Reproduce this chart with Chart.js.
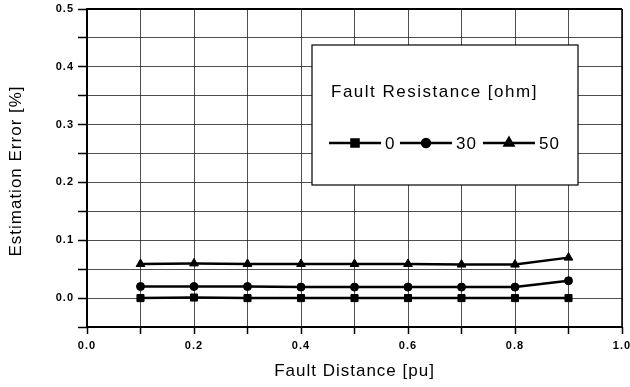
<!DOCTYPE html>
<html>
<head>
<meta charset="utf-8">
<script src="https://cdn.jsdelivr.net/npm/chart.js@4"></script>
<style>
  html, body { margin: 0; padding: 0; background: #fff; }
  #wrap { width: 630px; height: 387px; }
</style>
</head>
<body>
<div id="wrap"><canvas id="chart"></canvas></div>
<script>
// values
const distances = [0.1, 0.2, 0.3, 0.4, 0.5, 0.6, 0.7, 0.8, 0.9]
const err0 = [0.0, 0.001, 0.0, 0.0, 0.0, 0.0, 0.0, 0.0, 0.0]
const err30 = [0.02, 0.02, 0.02, 0.019, 0.019, 0.019, 0.019, 0.019, 0.03]
const err50 = [0.059, 0.06, 0.059, 0.059, 0.059, 0.059, 0.058, 0.058, 0.07]
const seriesNames = ["0", "30", "50"]
const legendTitle = "Fault Resistance [ohm]"
const xTitle = "Fault Distance [pu]"
const yTitle = "Estimation Error [%]"

const FONT = "'Liberation Sans', Arial, sans-serif"

const toPoints = (ys) => distances.map((x, i) => ({ x, y: ys[i] }))

const makeSet = (label, ys, style, radius) => ({
    label,
    data: toPoints(ys),
    borderColor: "#000",
    backgroundColor: "#000",
    borderWidth: 2.5,
    pointStyle: style,
    pointRadius: radius,
    pointBorderWidth: 1,
    tension: 0,
})

// the scan's lettering is spaced wider than plain Arial
const spacingPlugin = {
    id: "spacing",
    beforeDraw(chart) {
        chart.ctx.letterSpacing = "1px"
    },
}

// frame, axis titles and boxed legend, like the original figure
const framePlugin = {
    id: "frame",
    afterDatasetsDraw(chart) {
        const { ctx, chartArea: a } = chart
        ctx.save()
        ctx.strokeStyle = "#000"
        ctx.lineWidth = 2
        ctx.beginPath()
        ctx.moveTo(a.left, a.bottom)
        ctx.lineTo(a.left, a.top)
        ctx.lineTo(a.right, a.top)
        ctx.stroke()
        ctx.lineWidth = 1.5
        ctx.beginPath()
        ctx.moveTo(a.right, a.top)
        ctx.lineTo(a.right, a.bottom)
        ctx.stroke()
        ctx.lineWidth = 2
        ctx.beginPath()
        ctx.moveTo(a.left, a.bottom)
        ctx.lineTo(a.right, a.bottom)
        ctx.stroke()

        // axis titles
        ctx.fillStyle = "#000"
        ctx.letterSpacing = "1px"
        ctx.font = "17px " + FONT
        ctx.textAlign = "center"
        ctx.textBaseline = "middle"
        ctx.fillText(xTitle, (a.left + a.right) / 2, 371)
        ctx.save()
        ctx.translate(16, (a.top + a.bottom) / 2 + 3)
        ctx.rotate(-Math.PI / 2)
        ctx.fillText(yTitle, 0, 0)
        ctx.restore()

        // legend box
        const bx = 312, by = 45, bw = 266, bh = 140
        ctx.fillStyle = "#fff"
        ctx.fillRect(bx, by, bw, bh)
        ctx.lineWidth = 1.2
        ctx.strokeStyle = "#000"
        ctx.strokeRect(bx, by, bw, bh)

        ctx.fillStyle = "#000"
        ctx.letterSpacing = "1.5px"
        ctx.font = "17px " + FONT
        ctx.textAlign = "left"
        ctx.fillText(legendTitle, 331, 92)

        const rowY = 143
        const starts = [329, 400, 483]
        ctx.letterSpacing = "1px"
        chart.data.datasets.forEach((ds, i) => {
            const x0 = starts[i]
            ctx.strokeStyle = "#000"
            ctx.lineWidth = 2.5
            ctx.beginPath()
            ctx.moveTo(x0, rowY)
            ctx.lineTo(x0 + 52, rowY)
            ctx.stroke()
            Chart.helpers.drawPoint(ctx, {
                pointStyle: ds.pointStyle,
                radius: ds.pointRadius,
                borderWidth: 1,
            }, x0 + 26, rowY)
            ctx.fill()
            ctx.font = "17px " + FONT
            ctx.fillText(ds.label, x0 + 56, rowY + 1)
        })
        ctx.restore()
    },
}

new Chart(document.getElementById("chart"), {
    type: "line",
    data: {
        datasets: [
            makeSet(seriesNames[0], err0, "rect", 5),
            makeSet(seriesNames[1], err30, "circle", 4),
            makeSet(seriesNames[2], err50, "triangle", 5),
        ],
    },
    options: {
        responsive: true,
        maintainAspectRatio: false,
        animation: false,
        layout: { padding: { top: 9, right: 8, left: 0, bottom: 0 } },
        plugins: {
            legend: { display: false },
            tooltip: { enabled: false },
        },
        scales: {
            x: {
                type: "linear",
                min: 0,
                max: 1,
                afterFit: (s) => {
                    s.height = 60
                    s.paddingLeft = 0
                    s.paddingRight = 0
                },
                ticks: {
                    stepSize: 0.1,
                    padding: 5,
                    color: "#000",
                    font: { family: FONT, size: 11, weight: "bold" },
                    maxRotation: 0,
                    callback: (v) => {
                        const r = Math.round(v * 10)
                        return r % 2 === 0 ? (r / 10).toFixed(1) : ""
                    },
                },
                grid: {
                    color: "#222",
                    lineWidth: 0.8,
                    tickLength: 7,
                    tickColor: "#000",
                    tickWidth: 1.5,
                },
                border: { display: false },
            },
            y: {
                min: -0.05,
                max: 0.5,
                afterFit: (s) => {
                    s.width = 87
                    s.paddingTop = 0
                    s.paddingBottom = 0
                },
                ticks: {
                    stepSize: 0.05,
                    padding: 4,
                    color: "#000",
                    font: { family: FONT, size: 11, weight: "bold" },
                    callback: (v) => {
                        const r = Math.round(v * 20)
                        return r % 2 === 0 ? (r / 20).toFixed(1) : ""
                    },
                },
                grid: {
                    color: "#222",
                    lineWidth: 0.8,
                    tickLength: 9,
                    tickColor: "#000",
                    tickWidth: 1.5,
                },
                border: { display: false },
            },
        },
    },
    plugins: [spacingPlugin, framePlugin],
})
</script>
</body>
</html>
